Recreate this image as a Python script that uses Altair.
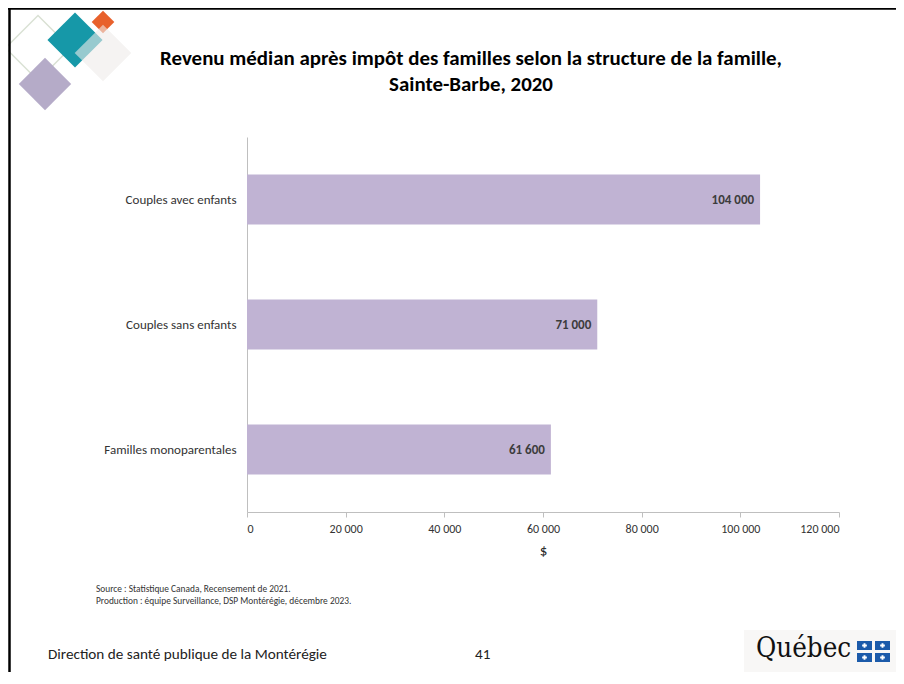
import altair as alt
import pandas as pd

categories = ["Couples avec enfants", "Couples sans enfants", "Familles monoparentales"]
values = [104000, 71000, 61600]
x_ticks = [0, 20000, 40000, 60000, 80000, 100000, 120000]
title_lines = ["Revenu médian après impôt des familles selon la structure de la famille,",
               "Sainte-Barbe, 2020"]
source_lines = ["Source : Statistique Canada,  Recensement de 2021.",
                "Production : équipe Surveillance, DSP Montérégie, décembre 2023."]
footer_text = "Direction de santé publique de la Montérégie"
page_number = "41"
logo_text = "Québec"

labels = [f"{v:,}".replace(",", " ") for v in values]
df = pd.DataFrame({"cat": categories, "val": values, "lab": labels})
one = pd.DataFrame({"a": [0]})

FONT = "Carlito, Lato, sans-serif"
OX, OY = 247, 137  # plot origin on page


def px(x):
    return x - OX


def py(y):
    return y - OY


y_enc = alt.Y("cat:N", sort=categories, title=None,
              scale=alt.Scale(paddingInner=0.6, paddingOuter=0.3),
              axis=alt.Axis(ticks=False, domainColor="#BFBFBF", labelFont=FONT,
                            labelFontSize=13, labelColor="#333333", labelPadding=11))
x_enc = alt.X("val:Q", title="$", scale=alt.Scale(domain=[0, 120000], nice=False),
              axis=alt.Axis(values=x_ticks, grid=False, domainColor="#BFBFBF",
                            tickColor="#BFBFBF", tickSize=5, labelFont=FONT,
                            labelFontSize=12, labelColor="#333333", labelPadding=6,
                            labelExpr="replace(format(datum.value, ','), ',', ' ')",
                            titleFont=FONT, titleFontSize=15, titleFontWeight="normal",
                            titleColor="#222222", titlePadding=8))

bars = alt.Chart(df).mark_bar(color="#C0B3D3").encode(x=x_enc, y=y_enc)
texts = alt.Chart(df).mark_text(align="right", dx=-6, font=FONT, fontSize=13,
                                fontWeight="bold", color="#3C3C3C").encode(
    x="val:Q", y=alt.Y("cat:N", sort=categories), text="lab:N")

layers = [bars, texts]


def txt(s, x, y, size, weight="normal", align="left", font=FONT, color="#333333",
        baseline="middle"):
    return alt.Chart(one).mark_text(text=s, align=align, baseline=baseline, font=font,
                                    fontSize=size, fontWeight=weight, color=color).encode(
        x=alt.value(px(x)), y=alt.value(py(y)))


def sq(x, y, side, color, opacity=1.0, filled=True, stroke=None):
    kw = dict(shape="square", angle=45, size=side * side, opacity=opacity, filled=filled)
    if filled:
        kw["color"] = color
    else:
        kw["stroke"] = stroke
        kw["strokeWidth"] = 1.5
        kw["fillOpacity"] = 0
    return alt.Chart(one).mark_point(**kw).encode(x=alt.value(px(x)), y=alt.value(py(y)))


def rect(x1, x2, y1, y2, color):
    return alt.Chart(one).mark_rect(color=color).encode(
        x=alt.value(px(x1)), x2=alt.value(px(x2)), y=alt.value(py(y1)), y2=alt.value(py(y2)))


# decorative diamonds
layers += [
    sq(38, 48, 46, None, filled=False, stroke="#D9E0D3"),
    sq(45, 84, 37, "#B5ABC8"),
    sq(75, 40, 39, "#1698A8"),
    sq(103, 22, 16, "#E8612C"),
    sq(103, 53, 40, "#EEEBE9", opacity=0.6),
]

# title
layers += [
    txt(title_lines[0], 471, 59, 20.9, "bold", "center", color="#000000"),
    txt(title_lines[1], 471, 85, 20.9, "bold", "center", color="#000000"),
]
# source
layers += [txt(source_lines[0], 96, 589, 9.4), txt(source_lines[1], 96, 601, 9.4)]
# footer
layers += [txt(footer_text, 48, 654, 15.2, color="#222222"),
           txt(page_number, 475, 654, 15.2, color="#222222")]
# logo
layers += [
    rect(744, 900, 630, 680, "#F8F7F6"),
    txt(logo_text, 756, 657, 27.5, font="DejaVu Serif Condensed, DejaVu Serif",
        color="#111111", baseline="alphabetic"),
]
for (x1, x2, y1, y2) in [(857, 872, 641, 650), (875, 890, 641, 650),
                         (857, 872, 653, 662), (875, 890, 653, 662)]:
    layers.append(rect(x1, x2, y1, y2, "#1C5BAA"))
    layers.append(alt.Chart(one).mark_point(shape="cross", filled=True, color="#FFFFFF",
                                            size=22, opacity=1).encode(
        x=alt.value(px((x1 + x2) / 2)), y=alt.value(py((y1 + y2) / 2))))
# frame
layers += [
    alt.Chart(one).mark_rule(color="#000000", strokeWidth=2.5).encode(
        x=alt.value(px(8)), x2=alt.value(px(904)), y=alt.value(py(8.5))),
    alt.Chart(one).mark_rule(color="#000000", strokeWidth=2.5).encode(
        x=alt.value(px(9.5)), y=alt.value(py(8)), y2=alt.value(py(684))),
]

chart = alt.layer(*layers).properties(
    width=592, height=375,
    background="white",
    autosize=alt.AutoSizeParams(type="none"),
    padding={"left": OX - 8, "top": OY - 8, "right": 904 - 8 - 839, "bottom": 160},
).configure_view(strokeWidth=0)

chart.save("out.html", embed_options={"renderer": "svg", "actions": False})
